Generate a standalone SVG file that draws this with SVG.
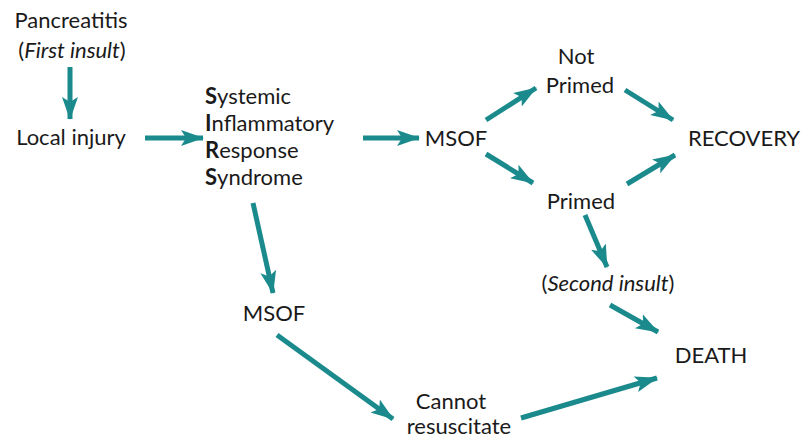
<svg xmlns="http://www.w3.org/2000/svg" width="805" height="439" viewBox="0 0 805 439">
<style>
text{font-family:"Lato","Open Sans","Liberation Sans",sans-serif;font-size:22px;fill:#1a1a1a}
.c{text-anchor:middle}
.a{stroke:#1a8a8c;stroke-width:5;fill:none;marker-end:url(#h)}
</style>
<defs>
<marker id="h" markerUnits="userSpaceOnUse" markerWidth="24" markerHeight="20" viewBox="0 0 24 20" refX="22" refY="10" orient="auto">
<path d="M0,2 L23,10 L0,18 L5,10 Z" fill="#1a8a8c"/>
</marker>
</defs>
<rect width="805" height="439" fill="#fff"/>
<g id="connectors">
<path class="a" d="M70,67 L70,119"/>
<path class="a" d="M145,138 L203,138"/>
<path class="a" d="M363,138 L419,138"/>
<path class="a" d="M486,120 L536,88"/>
<path class="a" d="M625,90 L673,120"/>
<path class="a" d="M486,154 L533,183"/>
<path class="a" d="M627,184 L675,155"/>
<path class="a" d="M585,215 L607,267"/>
<path class="a" d="M610,305 L658,332"/>
<path class="a" d="M253,203 L273,293"/>
<path class="a" d="M277,335 L393,419"/>
<path class="a" d="M521,418 L657,378"/>
</g>
<g id="pancreatitis"><text x="71" y="28" class="c">Pancreatitis</text><text x="72" y="58" class="c">(<tspan font-style="italic">First insult</tspan>)</text></g>
<g id="local"><text x="71" y="145" class="c">Local injury</text></g>
<g id="sirs">
<text x="205" y="104"><tspan font-weight="bold">S</tspan>ystemic</text>
<text x="205" y="131"><tspan font-weight="bold">I</tspan>nflammatory</text>
<text x="205" y="158"><tspan font-weight="bold">R</tspan>esponse</text>
<text x="205" y="185"><tspan font-weight="bold">S</tspan>yndrome</text>
</g>
<g id="msof1"><text x="456" y="146" class="c">MSOF</text></g>
<g id="notprimed"><text x="576" y="64" class="c">Not</text><text x="580" y="93" class="c">Primed</text></g>
<g id="recovery"><text x="744" y="146" class="c">RECOVERY</text></g>
<g id="primed"><text x="581" y="209" class="c">Primed</text></g>
<g id="second"><text x="608" y="291" class="c">(<tspan font-style="italic">Second insult</tspan>)</text></g>
<g id="death"><text x="711" y="363" class="c">DEATH</text></g>
<g id="msof2"><text x="274" y="321" class="c">MSOF</text></g>
<g id="cannot"><text x="451" y="409" class="c">Cannot</text><text x="459" y="434" class="c">resuscitate</text></g>
</svg>
